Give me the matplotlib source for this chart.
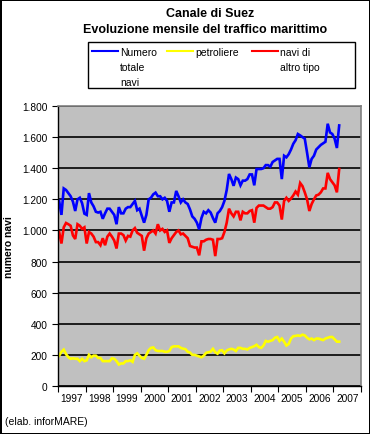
import numpy as np
import matplotlib
matplotlib.use("Agg")
import matplotlib.pyplot as plt
from matplotlib.lines import Line2D
from matplotlib.patches import Rectangle

plt.rcParams['font.family'] = ['Liberation Sans', 'DejaVu Sans']

# dati mensili da gennaio 1997
totale = [1190, 1100, 1270, 1260, 1240, 1220, 1185, 1125, 1200, 1210,
          1175, 1108, 1100, 1240, 1180, 1155, 1120, 1115, 1120, 1075,
          1110, 1140, 1140, 1120, 1100, 1040, 1150, 1110, 1110, 1140,
          1150, 1150, 1170, 1190, 1130, 1140, 1094, 1050, 1100, 1200,
          1210, 1232, 1243, 1220, 1220, 1200, 1210, 1190, 1120, 1180,
          1180, 1254, 1220, 1180, 1200, 1180, 1170, 1135, 1090, 1075,
          1050, 1007, 1080, 1120, 1110, 1130, 1115, 1080, 1050, 1110,
          1125, 1150, 1190, 1260, 1363, 1330, 1287, 1340, 1330, 1290,
          1320, 1320, 1330, 1360, 1360, 1290, 1395, 1395, 1395, 1400,
          1420, 1420, 1410, 1440, 1450, 1460, 1460, 1330, 1480, 1470,
          1490, 1520, 1557, 1580, 1620, 1611, 1600, 1590, 1500, 1406,
          1460, 1480, 1520, 1535, 1550, 1560, 1570, 1686, 1630, 1620,
          1590, 1530, 1675]

petroliere = [195, 220, 234, 205, 185, 175, 178, 175, 175, 160,
              175, 160, 165, 200, 185, 195, 195, 180, 180, 160,
              160, 160, 160, 178, 175, 160, 138, 145, 145, 160,
              160, 165, 155, 200, 210, 195, 180, 175, 200, 230,
              245, 248, 230, 225, 225, 225, 220, 220, 225, 250,
              255, 255, 255, 245, 240, 237, 220, 215, 200, 200,
              195, 190, 185, 195, 213, 217, 221, 239, 217, 208,
              228, 230, 210, 228, 235, 239, 235, 225, 245, 245,
              239, 239, 235, 245, 250, 256, 265, 250, 245, 260,
              290, 285, 290, 295, 310, 315, 290, 305, 285, 260,
              270, 305, 320, 322, 325, 322, 330, 325, 310, 300,
              305, 295, 305, 305, 300, 295, 305, 310, 315, 315,
              300, 285, 285]

altri = [990, 916, 1020, 1048, 1040, 1030, 968, 945, 1040, 1030,
         1010, 1020, 916, 990, 980, 960, 925, 925, 905, 950,
         905, 960, 980, 960, 935, 884, 980, 980, 970, 935,
         965, 960, 1000, 1015, 985, 975, 965, 870, 950, 980,
         990, 1000, 980, 1040, 1000, 1010, 990, 1000, 920, 950,
         970, 990, 1000, 975, 980, 965, 950, 900, 895, 890,
         890, 840, 930, 930, 940, 945, 945, 940, 835, 945,
         945, 950, 990, 1050, 1140, 1110, 1090, 1120, 1120, 1065,
         1120, 1110, 1110, 1125, 1130, 1050, 1145, 1160, 1160, 1160,
         1150, 1140, 1140, 1150, 1180, 1180, 1160, 1070, 1190, 1210,
         1190, 1205, 1225, 1250, 1230, 1305, 1285, 1245, 1200, 1125,
         1170, 1200, 1225, 1230, 1245, 1270, 1270, 1370, 1330, 1310,
         1290, 1245, 1395]

anni = list(range(1997, 2008))
serie = [("Numero\ntotale\nnavi", totale, "#0000FF"),
         ("petroliere", petroliere, "#FFFF00"),
         ("navi di\naltro tipo", altri, "#FF0000")]

W, H = 370, 435
fig = plt.figure(figsize=(W / 100, H / 100), dpi=100)
fig.patch.set_facecolor("white")
fig.patch.set_edgecolor("black")
fig.patch.set_linewidth(2)

ax = fig.add_axes([58 / W, 1 - 387 / H, 303 / W, 280 / H])
ax.set_facecolor("#C0C0C0")

mesi = np.arange(len(totale)) + 0.5
for nome, valori, colore in serie:
    ax.plot(mesi, valori, color=colore, lw=1.9, solid_joinstyle="miter")

ax.set_xlim(0, 12 * len(anni))
ax.set_ylim(0, 1800)
ax.set_yticks(range(0, 1801, 200))
ax.set_yticklabels([f"{v:,}".replace(",", ".") for v in range(0, 1801, 200)])
ax.yaxis.grid(True, color="black", lw=1.2)
ax.set_axisbelow(True)

ax.set_xticks(range(0, 12 * len(anni) + 1, 12))
ax.set_xticklabels([])
ax.set_xticks([12 * i + 6 for i in range(len(anni))], minor=True)
ax.set_xticklabels([str(a) for a in anni], minor=True)
ax.tick_params(axis="x", which="minor", length=0, pad=5)
ax.tick_params(axis="both", which="major", length=4, width=0.8, direction="out")
ax.tick_params(which="both", labelsize=7.3, colors="black")

for s in ["left", "bottom"]:
    ax.spines[s].set_color("black")
    ax.spines[s].set_linewidth(1)
for s in ["top", "right"]:
    ax.spines[s].set_color("#808080")
    ax.spines[s].set_linewidth(1.2)

ax.set_ylabel("numero navi", fontsize=7.5, fontweight="bold")
ax.yaxis.set_label_coords(-44 / 303, 0.5)

fig.text(210 / W, 1 - 14 / H, "Canale di Suez", ha="center", va="center",
         fontsize=9, fontweight="bold")
fig.text(205 / W, 1 - 30 / H, "Evoluzione mensile del traffico marittimo",
         ha="center", va="center", fontsize=9, fontweight="bold")

# legenda disegnata a mano
fig.add_artist(Rectangle((88 / W, 1 - 89 / H), 267 / W, 46 / H,
                         transform=fig.transFigure, fill=False,
                         edgecolor="black", lw=1))
x_leg = [92, 167, 252]
for (nome, valori, colore), x0 in zip(serie, x_leg):
    fig.add_artist(Line2D([x0 / W, (x0 + 26) / W], [1 - 52 / H, 1 - 52 / H],
                          transform=fig.transFigure, color=colore, lw=1.5))
    fig.text((x0 + 28) / W, 1 - 48 / H, nome, ha="left", va="top",
             fontsize=7.5, linespacing=1.6)

fig.text(5 / W, 1 - 422 / H, "(elab. inforMARE)", ha="left", va="center",
         fontsize=7.5)

fig.savefig("out.png", dpi=100, facecolor="white", edgecolor="black")
